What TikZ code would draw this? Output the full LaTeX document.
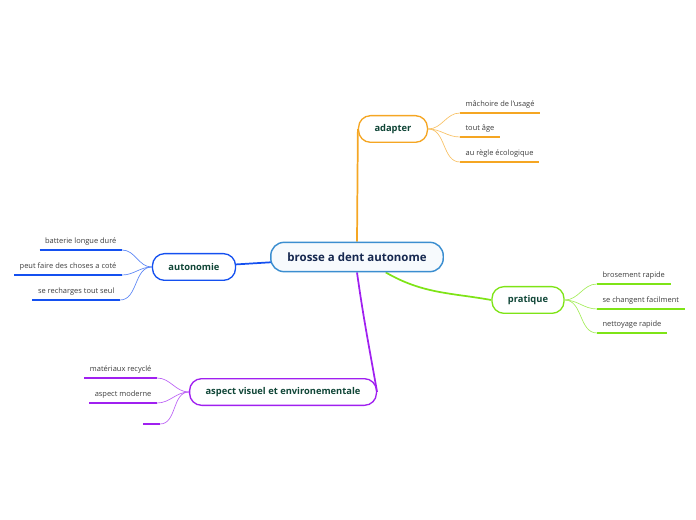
\documentclass[tikz,border=0pt]{standalone}
\usepackage{fontspec}
\setmainfont{Open Sans}
\usetikzlibrary{backgrounds,calc}
\definecolor{brosseBlue}{RGB}{59,142,208}
\definecolor{brosseSoft}{RGB}{247,250,253}
\definecolor{brosseNavy}{RGB}{22,40,80}
\definecolor{brosseInk}{RGB}{16,70,55}
\definecolor{brosseGrey}{RGB}{60,60,60}
\definecolor{brosseOrange}{RGB}{245,166,35}
\definecolor{brosseDeep}{RGB}{20,80,240}
\definecolor{brosseLime}{RGB}{126,228,22}
\definecolor{brossePurple}{RGB}{160,32,240}

\begin{document}
\begin{tikzpicture}[x=0.75pt, y=-0.75pt,
    root/.style={draw=brosseBlue, line width=1.1pt, rounded corners=10pt, fill=brosseSoft,
      font=\bfseries\fontsize{8.6}{10}\selectfont, text=brosseNavy, minimum height=22pt, inner xsep=12.5pt},
    topic/.style={draw, line width=1pt, rounded corners=9pt, fill=white,
      font=\bfseries\fontsize{7}{9}\selectfont, text=brosseInk, minimum height=20pt, inner xsep=12pt},
    leaf/.style={font=\fontsize{5.6}{6.5}\selectfont, text=brosseGrey, inner xsep=4pt, inner ysep=3.5pt},
    trunk/.style={line width=1.3pt},
    twig/.style={line width=0.5pt},
    uline/.style={line width=1.4pt}
  ]
    \useasboundingbox (0,0) rectangle (696,520);

    \node[root] (brosse) at (357,257) {brosse a dent autonome};

    \node[topic, draw=brosseOrange] (adapter) at (393,129) {adapter};
    \node[topic, draw=brosseDeep] (autonomie) at (194,267) {autonomie};
    \node[topic, draw=brosseLime] (pratique) at (528,300) {pratique};
    \node[topic, draw=brossePurple] (aspect) at (283,392) {aspect visuel et environementale};

    % leaves
    \node[leaf, anchor=south west] (adapter1) at (460,113) {mâchoire de l'usagé};
    \node[leaf, anchor=south west] (adapter2) at (460,137) {tout âge};
    \node[leaf, anchor=south west] (adapter3) at (460,162) {au règle écologique};
    \node[leaf, anchor=south east] (auto1) at (122,250) {batterie longue duré};
    \node[leaf, anchor=south east] (auto2) at (122,275) {peut faire des choses a coté};
    \node[leaf, anchor=south east] (auto3) at (120,300) {se recharges tout seul};
    \node[leaf, anchor=south west] (prat1) at (597,284) {brosement rapide};
    \node[leaf, anchor=south west] (prat2) at (597,309) {se changent facilment};
    \node[leaf, anchor=south west] (prat3) at (597,333) {nettoyage rapide};
    \node[leaf, anchor=south east] (aspect1) at (157,378) {matériaux recyclé};
    \node[leaf, anchor=south east] (aspect2) at (157,403) {aspect moderne};
    \node[leaf, anchor=south east, minimum width=12pt] (aspect3) at (160,424) {};

    % underlines
    \foreach \leafnode/\col in {adapter1/brosseOrange, adapter2/brosseOrange, adapter3/brosseOrange,
        auto1/brosseDeep, auto2/brosseDeep, auto3/brosseDeep,
        prat1/brosseLime, prat2/brosseLime, prat3/brosseLime,
        aspect1/brossePurple, aspect2/brossePurple, aspect3/brossePurple}
      \draw[uline, \col] (\leafnode.south west) -- (\leafnode.south east);

    % twigs
    \foreach \topicnode/\leafnode/\col in {adapter/adapter1/brosseOrange, adapter/adapter2/brosseOrange,
        adapter/adapter3/brosseOrange, pratique/prat1/brosseLime, pratique/prat2/brosseLime,
        pratique/prat3/brosseLime}
      \draw[twig, \col!70] (\topicnode.east) to[out=0, in=180] (\leafnode.south west);
    \foreach \topicnode/\leafnode/\col in {autonomie/auto1/brosseDeep, autonomie/auto2/brosseDeep,
        autonomie/auto3/brosseDeep, aspect/aspect1/brossePurple, aspect/aspect2/brossePurple,
        aspect/aspect3/brossePurple}
      \draw[twig, \col!70] (\topicnode.west) to[out=180, in=0] (\leafnode.south east);

    % trunks
    \begin{scope}[on background layer]
      \draw[trunk, brosseOrange] (brosse.north) -- (adapter.west);
      \draw[trunk, brosseDeep] (autonomie.center) -- (brosse.center);
      \draw[trunk, brosseLime] ($(brosse.south)!0.33!(brosse.south east)$) to[out=-30, in=170] (pratique.west);
      \draw[trunk, brossePurple] (brosse.south) to[out=-82, in=100] (aspect.east);
    \end{scope}
  \end{tikzpicture}
\end{document}
